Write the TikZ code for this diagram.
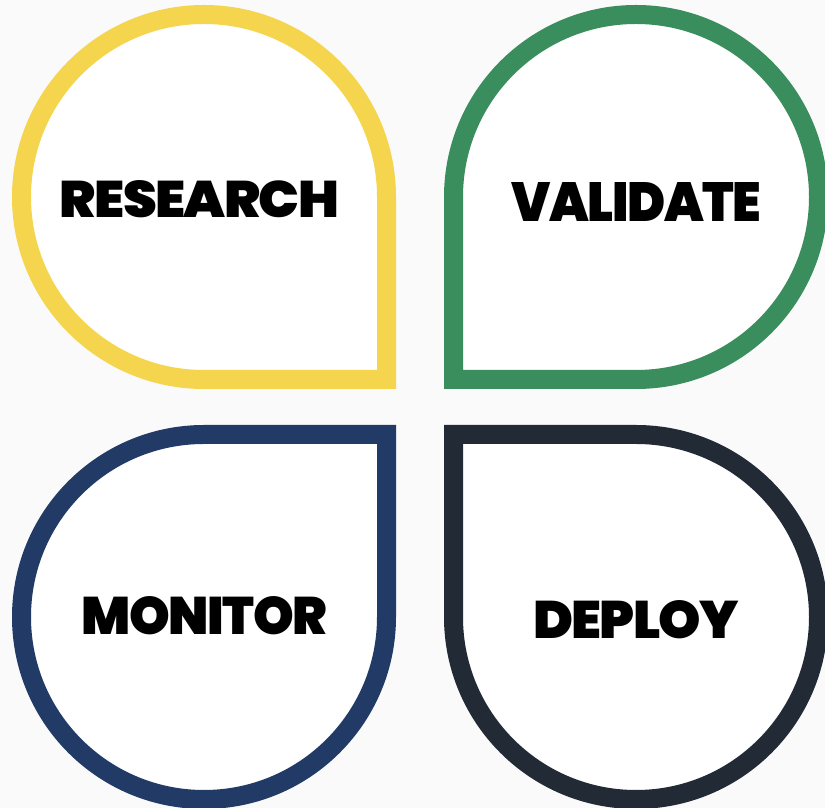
\documentclass[tikz,border=0pt]{standalone}
\usepackage{graphicx}
\usepackage{fontspec}
\setmainfont{Poppins}
\IfFontExistsTF{Poppins Black}
  {\newfontfamily\heavy{Poppins Black}[LetterSpace=-3]}
  {\newfontfamily\heavy{Poppins}[UprightFont={* Bold}, FakeBold=1.6, LetterSpace=-3]}
\definecolor{bgc}{HTML}{FAFAFA}
\definecolor{cyellow}{HTML}{F5D54E}
\definecolor{cgreen}{HTML}{3A8D5C}
\definecolor{cnavy}{HTML}{213A66}
\definecolor{cdark}{HTML}{222A36}
\tikzset{
  petal/.style={line width=19pt, line join=miter, fill=white},
  lbl/.style={inner sep=0pt, outer sep=0pt, text=black}
}
\newcommand{\petalpath}[3]{% center, rotation, color
  \draw[petal, draw=#3, rotate around={#2:#1}]
    #1 ++(182.5pt,0) -- ++(0,-182.5pt) -- ++(-182.5pt,0)
    arc[start angle=-90, end angle=-360, radius=182.5pt] -- cycle;
}
\begin{document}
\begin{tikzpicture}[x=1pt,y=1pt]
  \fill[bgc] (0,0) rectangle (825,808);
  \useasboundingbox (0,0) rectangle (825,808);
  \coordinate (tl) at (204,611);
  \coordinate (tr) at (636,611);
  \coordinate (bl) at (204,191);
  \coordinate (br) at (636,191);
  \petalpath{(tl)}{0}{cyellow}
  \petalpath{(tr)}{-90}{cgreen}
  \petalpath{(bl)}{90}{cnavy}
  \petalpath{(br)}{180}{cdark}
  \node[lbl] (research) at (199.5,608.5) {\resizebox{279pt}{37pt}{\heavy RESEARCH}};
  \node[lbl] (validate) at (636.5,605.5) {\resizebox{249pt}{39pt}{\heavy VALIDATE}};
  \node[lbl] (monitor) at (204.5,192) {\resizebox{245pt}{38pt}{\heavy MONITOR}};
  \node[lbl] (deploy) at (636,188) {\resizebox{206pt}{38pt}{\heavy DEPLOY}};
\end{tikzpicture}
\end{document}
